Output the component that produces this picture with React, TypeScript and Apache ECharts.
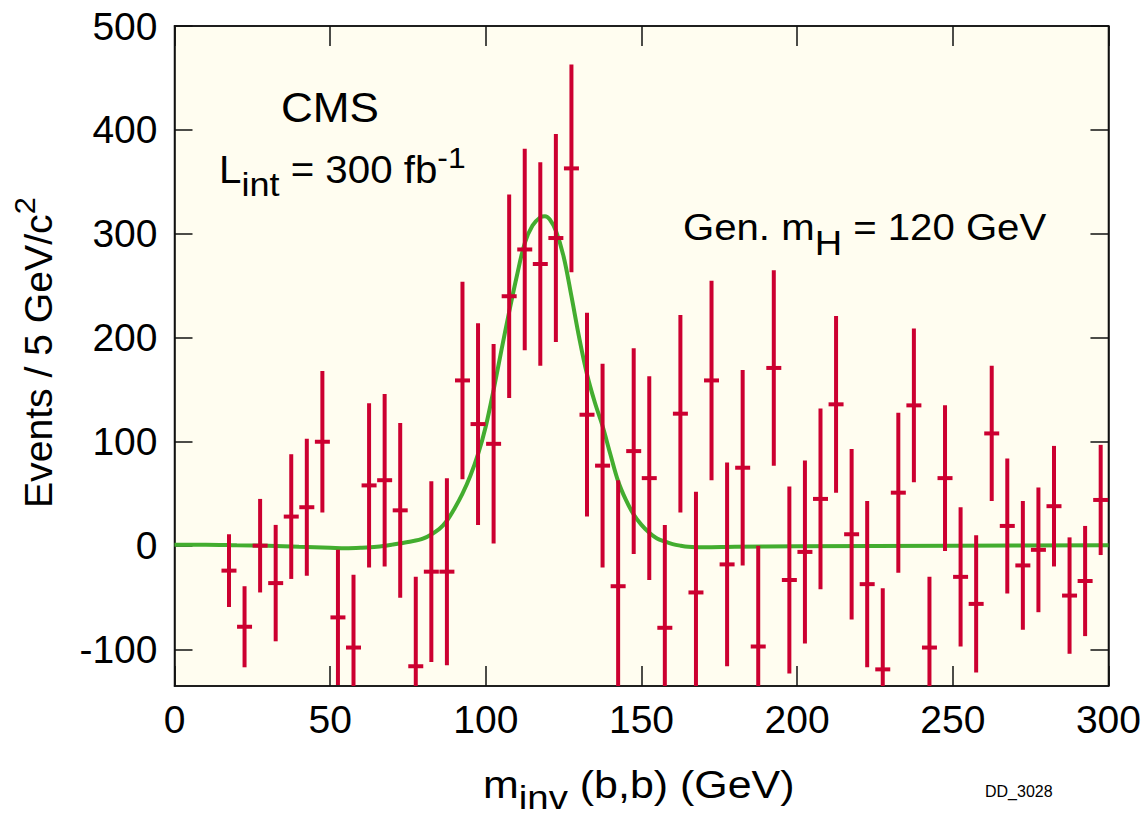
import React, { useEffect, useRef } from "react";
import * as echarts from "echarts";

// ---- data ----
const massBins = [17.5, 22.5, 27.5, 32.5, 37.5, 42.5, 47.5, 52.5, 57.5, 62.5, 67.5, 72.5, 77.5, 82.5, 87.5, 92.5, 97.5, 102.5, 107.5, 112.5, 117.5, 122.5, 127.5, 132.5, 137.5, 142.5, 147.5, 152.5, 157.5, 162.5, 167.5, 172.5, 177.5, 182.5, 187.5, 192.5, 197.5, 202.5, 207.5, 212.5, 217.5, 222.5, 227.5, 232.5, 237.5, 242.5, 247.5, 252.5, 257.5, 262.5, 267.5, 272.5, 277.5, 282.5, 287.5, 292.5, 297.5];
const events = [-24, -78, 0, -36, 28, 37, 100, -69, -98, 58, 63, 34, -116, -25, -25, 159, 117, 98, 240, 285, 271, 296, 363, 126, 77, -39, 91, 65, -79, 127, -45, 159, -18, 75, -97, 171, -33, -6, 45, 136, 11, -37, -119, 51, 135, -98, 65, -30, -56, 108, 19, -19, -4, 38, -48, -34, 44];
const errors = [35, 39, 45, 56, 60, 66, 68, 65, 70, 79, 83, 84, 86, 87, 90, 95, 97, 96, 98, 97, 98, 100, 100, 98, 98, 102, 99, 98, 99, 95, 97, 96, 98, 94, 97, 94, 90, 88, 87, 85, 82, 80, 78, 77, 74, 68, 70, 67, 66, 65, 65, 62, 60, 58, 56, 53, 53];

const fitMass = [0, 10, 20, 30, 40, 50, 55, 60, 65, 70, 75, 80, 85, 87.5, 90, 92.5, 95, 97.5, 100, 102.5, 105, 107.5, 110, 112.5, 115, 117.5, 119, 120.5, 122.5, 125, 127.5, 130, 132.5, 135, 137.5, 140, 142.5, 145, 147.5, 150, 152.5, 155, 157.5, 160, 162.5, 165, 170, 180, 200, 250, 300];
const fitEvents = [1, 1, 0.5, 0, -1, -2, -2.5, -2, -1, 1, 3.5, 7, 16, 24, 36, 50, 67, 88, 115, 150, 188, 225, 260, 291, 308, 316, 317, 314, 303, 278, 240, 200, 165, 138, 115, 88, 62, 44, 30, 20, 12.5, 7, 4, 1.5, 0, -1, -1.5, -1, -0.5, 0, 0.5];

const xTicks = [0, 50, 100, 150, 200, 250, 300];
const yTicks = [-100, 0, 100, 200, 300, 400, 500];

const FONT = '"Liberation Sans", Arial, Helvetica, sans-serif';
const RED = "#cc0030";
const GREEN = "#43ad2f";

type Part = { t: string; s: number; dy: number };

let measureCtx: CanvasRenderingContext2D | null = null;
function textWidth(t: string, s: number): number {
  if (!measureCtx) measureCtx = document.createElement("canvas").getContext("2d");
  if (!measureCtx) return t.length * s * 0.55;
  measureCtx.font = `${s}px "Liberation Sans"`;
  return measureCtx.measureText(t).width;
}

function label(parts: Part[], x: number, baseline: number, opts: { rotation?: number; scaleX?: number } = {}) {
  let cx = 0;
  const children = parts.map((p) => {
    const el = {
      type: "text",
      x: cx,
      y: p.dy - 0.3465 * p.s,
      style: { text: p.t, fontSize: p.s, fontFamily: FONT, fill: "#000", align: "left", verticalAlign: "middle" },
    };
    cx += textWidth(p.t, p.s);
    return el;
  });
  return { type: "group", x, y: baseline, rotation: opts.rotation || 0, scaleX: opts.scaleX || 1, children };
}

export default function App() {
  const ref = useRef<HTMLDivElement>(null);
  useEffect(() => {
    document.body.style.margin = "0";
    if (!ref.current) return;
    const chart = echarts.init(ref.current, null, { renderer: "svg" });
    const axisLine = { show: true, onZero: false, lineStyle: { color: "#111", width: 1.5 } };
    const tick = (len: number, values: number[]) => ({
      show: true,
      inside: true,
      length: len,
      lineStyle: { color: "#111", width: 1.5 },
      customValues: values,
    });
    const option: any = {
      animation: false,
      backgroundColor: "#ffffff",
      grid: {
        left: 174.5,
        right: 31.5,
        top: 26,
        bottom: 135,
        show: true,
        backgroundColor: "#fffdf0",
        borderColor: "#111",
        borderWidth: 1.5,
      },
      xAxis: [
        {
          type: "value",
          position: "bottom",
          min: 0,
          max: 300,
          interval: 50,
          axisLine,
          axisTick: tick(20, xTicks),
          axisLabel: { customValues: xTicks, fontSize: 39, fontFamily: FONT, color: "#000", margin: 14, showMinLabel: true, showMaxLabel: true, hideOverlap: false },
          splitLine: { show: false },
        },
        {
          type: "value",
          position: "top",
          min: 0,
          max: 300,
          interval: 50,
          axisLine,
          axisTick: tick(20, xTicks),
          axisLabel: { show: false },
          splitLine: { show: false },
        },
      ],
      yAxis: [
        {
          type: "value",
          position: "left",
          min: -135,
          max: 500,
          axisLine,
          axisTick: tick(18, yTicks),
          axisLabel: { customValues: yTicks, fontSize: 39, fontFamily: FONT, color: "#000", margin: 17, showMinLabel: true, showMaxLabel: true, hideOverlap: false },
          splitLine: { show: false },
        },
        {
          type: "value",
          position: "right",
          min: -135,
          max: 500,
          axisLine,
          axisTick: tick(18, yTicks),
          axisLabel: { show: false },
          splitLine: { show: false },
        },
      ],
      series: [
        {
          type: "line",
          xAxisIndex: 0,
          yAxisIndex: 0,
          data: fitMass.map((m, i) => [m, fitEvents[i]]),
          smooth: 0.35,
          showSymbol: false,
          symbol: "none",
          lineStyle: { color: GREEN, width: 4 },
          clip: true,
          z: 2,
        },
        {
          type: "custom",
          xAxisIndex: 0,
          yAxisIndex: 0,
          clip: true,
          z: 3,
          data: massBins.map((m, i) => [m, events[i], errors[i]]),
          encode: { x: 0, y: 1 },
          renderItem: (params: any, api: any) => {
            const x = api.value(0);
            const v = api.value(1);
            const e = api.value(2);
            const top = api.coord([x, v + e]);
            const bot = api.coord([x, v - e]);
            const mid = api.coord([x, v]);
            const half = 7.5;
            return {
              type: "group",
              children: [
                { type: "line", shape: { x1: top[0], y1: top[1], x2: bot[0], y2: bot[1] }, style: { stroke: RED, lineWidth: 4 } },
                { type: "line", shape: { x1: mid[0] - half, y1: mid[1], x2: mid[0] + half, y2: mid[1] }, style: { stroke: RED, lineWidth: 4 } },
              ],
            };
          },
        },
      ],
      graphic: [
        label([{ t: "CMS", s: 42, dy: 0 }], 281, 121.5, { scaleX: 1.05 }),
        label(
          [
            { t: "L", s: 38, dy: 0 },
            { t: "int", s: 34, dy: 13 },
            { t: " = 300 fb", s: 38, dy: 0 },
            { t: "-1", s: 30, dy: -15 },
          ],
          219,
          183,
          { scaleX: 1.06 }
        ),
        label(
          [
            { t: "Gen. m", s: 37, dy: 0 },
            { t: "H", s: 35, dy: 15 },
            { t: " = 120 GeV", s: 37, dy: 0 },
          ],
          683,
          240,
          { scaleX: 1.085 }
        ),
        label(
          [
            { t: "Events / 5 GeV/c", s: 38, dy: 0 },
            { t: "2", s: 30, dy: -17 },
          ],
          52,
          508,
          { rotation: Math.PI / 2, scaleX: 1.03 }
        ),
        label(
          [
            { t: "m", s: 38, dy: 0 },
            { t: "inv", s: 34, dy: 11 },
            { t: " (b,b) (GeV)", s: 38, dy: 0 },
          ],
          483,
          798,
          { scaleX: 1.13 }
        ),
        label([{ t: "DD_3028", s: 16, dy: 0 }], 985, 797, { scaleX: 1.0 }),
      ],
    };
    chart.setOption(option);
    return () => chart.dispose();
  }, []);
  return <div ref={ref} style={{ width: 1144, height: 821 }} />;
}
